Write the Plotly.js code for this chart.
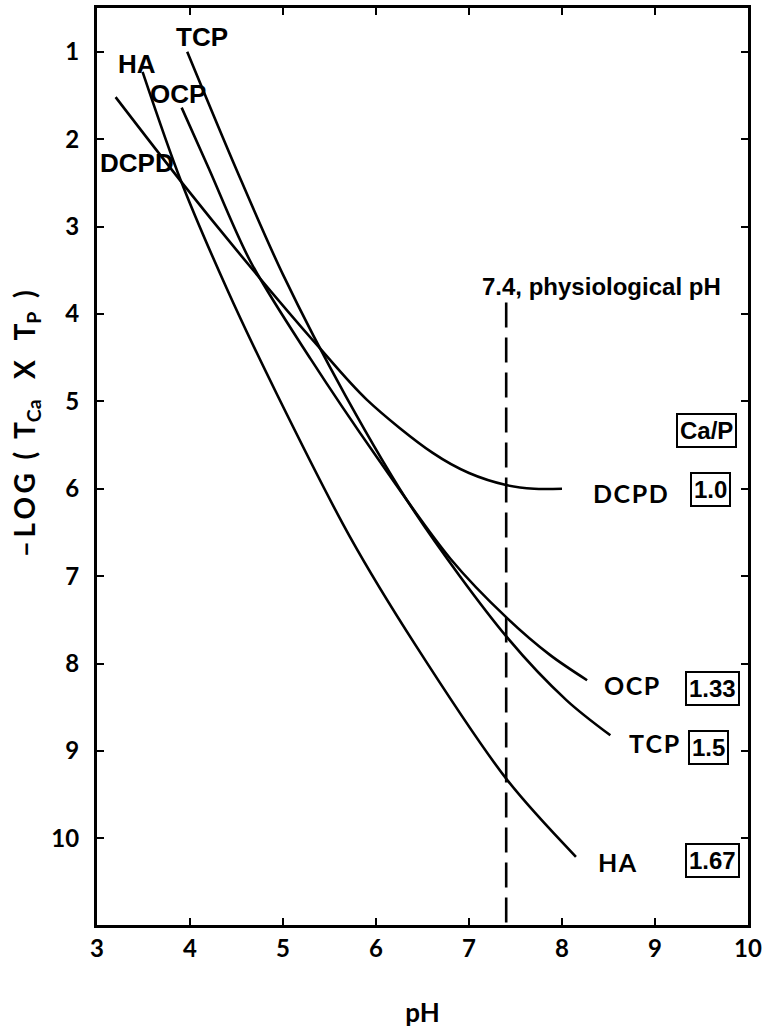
<!DOCTYPE html>
<html>
<head>
<meta charset="utf-8">
<script src="https://cdn.plot.ly/plotly-3.0.1.min.js"></script>
<style>html,body{margin:0;padding:0;background:#fff;}</style>
</head>
<body>
<div id="chart" style="width:764px;height:1032px;"></div>
<script>
// ---- data ----
const pH_DCPD = [3.2, 3.9, 4.68, 5.37, 5.9, 6.61, 7.0, 7.41, 7.7, 8.0];
const logDCPD = [1.52, 2.48, 3.5, 4.36, 4.98, 5.59, 5.82, 5.96, 6.0, 6.0];

const pH_HA = [3.49, 3.9, 4.4, 4.94, 5.72, 6.42, 7.41, 8.15];
const logHA = [1.23, 2.47, 3.72, 4.93, 6.55, 7.78, 9.33, 10.21];

const pH_OCP = [3.91, 4.2, 4.65, 5.3, 6.01, 6.8, 7.41, 7.87, 8.27];
const logOCP = [1.64, 2.33, 3.4, 4.52, 5.64, 6.8, 7.48, 7.9, 8.19];

const pH_TCP = [3.97, 4.5, 5.0, 5.67, 6.4, 7.41, 8.05, 8.52];
const logTCP = [1.0, 2.35, 3.55, 4.93, 6.24, 7.70, 8.42, 8.82];

const physioPH = [7.4, 7.4];
const physioY  = [3.87, 10.99];

const phases    = ["DCPD", "OCP", "TCP", "HA"];
const caPRatios = ["1.0", "1.33", "1.5", "1.67"];

const xTicks = [3, 4, 5, 6, 7, 8, 9, 10];
const xTickText = ["3", "4", "5", "6", "7", "8", "9", "10"];
const yTicks = [1, 2, 3, 4, 5, 6, 7, 8, 9, 10];
const yTickText = ["1", "2", "3", "4", "5", "6", "7", "8", "9", "10"];

// ---- traces ----
const curveLine = {color: "#000", width: 2.6, shape: "spline", smoothing: 0.9};
const traces = [
  {x: pH_DCPD, y: logDCPD, mode: "lines", line: curveLine, name: "DCPD"},
  {x: pH_OCP, y: logOCP, mode: "lines", line: curveLine, name: "OCP"},
  {x: pH_TCP, y: logTCP, mode: "lines", line: curveLine, name: "TCP"},
  {x: pH_HA, y: logHA, mode: "lines", line: curveLine, name: "HA"},
  {x: physioPH, y: physioY, mode: "lines", line: {color: "#000", width: 2.6, dash: "25px,10px"}, name: "7.4"}
];

const helv = "Liberation Sans, Arial, sans-serif";
const round = "Lato, DejaVu Sans, sans-serif";

const annotations = [];
// top labels (Arial bold)
const topLabelPos = {TCP: [4.13, 0.83], HA: [3.43, 1.14], OCP: [3.87, 1.48], DCPD: [3.43, 2.27]};
Object.keys(topLabelPos).forEach(k => {
  annotations.push({x: topLabelPos[k][0], y: topLabelPos[k][1], xref: "x", yref: "y",
    text: "<b>" + k + "</b>", showarrow: false, font: {family: helv, size: 26, color: "#000"}});
});
annotations.push({x: 8.42, y: 3.69, xref: "x", yref: "y", text: "<b>7.4, physiological pH</b>",
  showarrow: false, font: {family: helv, size: 24, color: "#000"}});

// right-side labels
const rightLabelPos = {DCPD: [8.74, 6.05], OCP: [8.75, 8.25], TCP: [8.99, 8.91], HA: [8.60, 10.27]};
phases.forEach(p => {
  annotations.push({x: rightLabelPos[p][0], y: rightLabelPos[p][1], xref: "x", yref: "y",
    text: "<b>" + p.split("").join("\u200A") + "</b>", showarrow: false,
    font: {family: round, size: 25, color: "#000"}});
});
// Ca/P boxes
const boxPos = [[9.60, 6.01], [9.62, 8.28], [9.57, 8.96], [9.62, 10.25]];
const boxStyle = {showarrow: false, bordercolor: "#000", borderwidth: 2, borderpad: 2, bgcolor: "#fff",
  font: {family: helv, size: 24, color: "#000"}};
annotations.push(Object.assign({x: 9.55, y: 5.33, xref: "x", yref: "y", text: "<b>Ca/P</b>"}, boxStyle));
caPRatios.forEach((r, i) => {
  annotations.push(Object.assign({x: boxPos[i][0], y: boxPos[i][1], xref: "x", yref: "y", text: "<b>" + r + "</b>"}, boxStyle));
});
// y-axis title
const S = "\u00A0";
const h = "\u2009";
annotations.push({x: -0.109, y: 0.546, xref: "paper", yref: "paper", xanchor: "center", yanchor: "middle",
  textangle: -90, showarrow: false,
  text: "<b>\u2013" + h + "L" + h + "O" + h + "G" + S + S + "(" + S + S + "T<sub>Ca</sub>" + S + S + S + "X" + S + S + S + "T<sub>P</sub>" + S + S + ")</b>",
  font: {family: round, size: 28, color: "#000"}});

const axisCommon = {
  showgrid: false, zeroline: false, showline: true, linecolor: "#000", linewidth: 3,
  mirror: "ticks", ticks: "inside", ticklen: 7, tickwidth: 2, tickcolor: "#000",
  tickfont: {family: round, size: 24, color: "#000", weight: "bold"}
};

const layout = {
  width: 764, height: 1032,
  margin: {l: 97, r: 16, t: 8, b: 107},
  paper_bgcolor: "#fff", plot_bgcolor: "#fff",
  showlegend: false,
  xaxis: Object.assign({}, axisCommon, {
    range: [3, 10], tickmode: "array", tickvals: xTicks, ticktext: xTickText,
    ticklabelstandoff: 0,
    title: {text: "<b>pH</b>", font: {family: round, size: 26, color: "#000"}, standoff: 44}
  }),
  yaxis: Object.assign({}, axisCommon, {
    range: [10.99, 0.5], tickmode: "array", tickvals: yTicks, ticktext: yTickText,
    ticklabelstandoff: 10
  }),
  annotations: annotations
};

Plotly.newPlot("chart", traces, layout, {displayModeBar: false, staticPlot: true});
</script>
</body>
</html>
